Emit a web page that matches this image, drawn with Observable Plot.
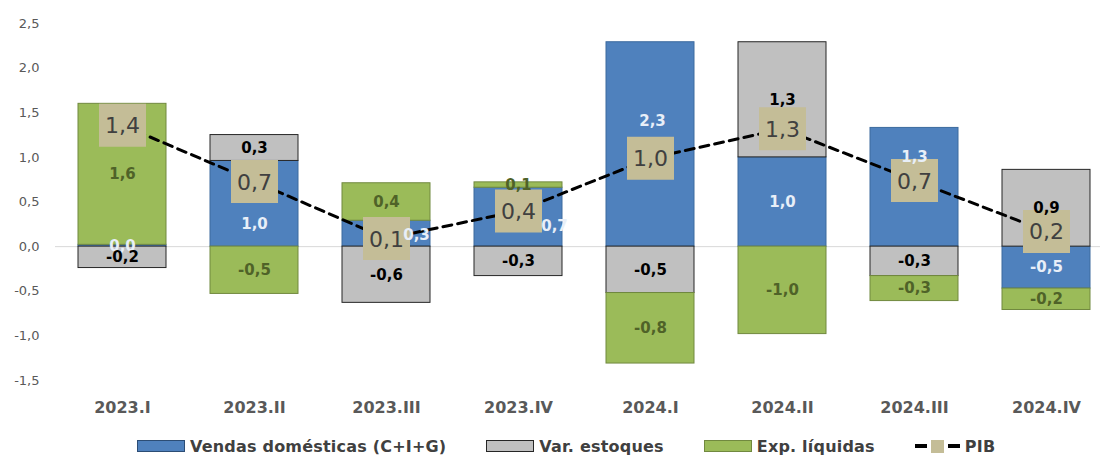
<!DOCTYPE html>
<html><head><meta charset="utf-8">
<script src="https://cdn.jsdelivr.net/npm/d3@7"></script>
<script src="https://cdn.jsdelivr.net/npm/@observablehq/plot@0.6"></script>
<style>
body{margin:0;background:#fff;font-family:"DejaVu Sans",sans-serif;}
#legend{display:flex;align-items:center;height:22px;margin-top:7px;padding-left:137px;font-weight:bold;font-size:16px;color:#404040;letter-spacing:0.2px}
.item{display:flex;align-items:center;margin-right:40px;white-space:nowrap}
.sw{width:46px;height:10px;margin-right:5px;border:1px solid}
.pib{display:flex;align-items:center;margin-right:5px}
.dash{width:12px;height:4px;background:#000}
.sq{width:13px;height:13px;background:#c4bd97;margin:0 4px}
</style></head><body>
<div id="chart"></div>
<div id="legend"></div>
<script>
const quarters = ["2023.I","2023.II","2023.III","2023.IV","2024.I","2024.II","2024.III","2024.IV"];
const seriesNames = ["Vendas domésticas (C+I+G)", "Var. estoques", "Exp. líquidas"];
const pibName = "PIB";
const vendas      = [0.02, 0.96, 0.29, 0.66, 2.29, 1.00, 1.33, -0.47];
const estoques    = [-0.24, 0.29, -0.63, -0.33, -0.52, 1.29, -0.33, 0.86];
const exportacoes = [1.58, -0.53, 0.42, 0.06, -0.79, -0.98, -0.28, -0.24];
const pib         = [1.36, 0.73, 0.09, 0.40, 0.99, 1.32, 0.74, 0.17];
const yTicks = [-1.5, -1, -0.5, 0, 0.5, 1, 1.5, 2, 2.5];

const seriesValues = [vendas, estoques, exportacoes];
const rows = quarters.flatMap((q, i) => seriesNames.map((s, j) => ({q, s, v: seriesValues[j][i]})));
const pibRows = quarters.map((q, i) => ({q, v: pib[i]}));

const fillOf   = {[seriesNames[0]]: "#4f81bd", [seriesNames[1]]: "#c0c0c0", [seriesNames[2]]: "#9bbb59"};
const strokeOf = {[seriesNames[0]]: "#3c6a9e", [seriesNames[1]]: "#262626", [seriesNames[2]]: "#71893f"};
const labelOf  = {[seriesNames[0]]: "#e8eff8", [seriesNames[1]]: "#000000", [seriesNames[2]]: "#4f6228"};
const legendBorderOf = {[seriesNames[0]]: "#2c4d75", [seriesNames[1]]: "#262626", [seriesNames[2]]: "#71893f"};

const fmt = d3.formatLocale({decimal: ",", thousands: ".", grouping: [3], currency: ["", ""], minus: "-"}).format(".1f");

// label nudges (pixel offsets), as in the original layout
const nudges = new Map([
  ["2023.II|" + seriesNames[0], [0, 20]],
  ["2023.III|" + seriesNames[0], [30, 2]],
  ["2023.IV|" + seriesNames[0], [36, 9]],
  ["2024.I|" + seriesNames[0], [2, -23]],
  ["2024.III|" + seriesNames[0], [0, -30]]
]);
const key = d => d.q + "|" + d.s;
const box = {draw(ctx) { ctx.rect(-23.5, -21.5, 47, 43); }};

const labelOpts = {fontSize: 15, fontWeight: "bold"};

const chart = Plot.plot({
  width: 1106, height: 428,
  marginLeft: 55, marginRight: 6, marginTop: 23, marginBottom: 48,
  style: {fontFamily: "DejaVu Sans", background: "#fff"},
  color: {type: "identity"},
  x: {type: "band", domain: quarters, range: [54.85, 1113.2], paddingInner: 0.335, paddingOuter: 0.1675},
  y: {domain: [-1.5, 2.5]},
  marks: [
    Plot.ruleY([0], {stroke: "#d9d9d9", strokeWidth: 1}),
    Plot.axisY({ticks: yTicks, tickFormat: fmt, tickSize: 0, tickPadding: 16, fontSize: 13, color: "#595959", label: null}),
    Plot.axisX({tickSize: 0, tickPadding: 21, fontSize: 16, fontWeight: "bold", color: "#595959", label: null}),
    Plot.barY(rows, Plot.stackY({x: "q", y: "v", fill: d => fillOf[d.s], stroke: d => strokeOf[d.s], strokeWidth: 1})),
    Plot.line(pibRows, {x: "q", y: "v", stroke: "#000", strokeWidth: 3, strokeDasharray: "9,6"}),
    Plot.dot(pibRows, {x: "q", y: "v", symbol: box, r: 10, fill: "#c4bd97"}),
    Plot.text(pibRows, {x: "q", y: "v", text: d => fmt(d.v), fontSize: 22, fill: "#404040", dy: 1}),
    Plot.text(rows, Plot.stackY({x: "q", y: "v", text: d => nudges.has(key(d)) ? null : fmt(d.v), fill: d => labelOf[d.s], ...labelOpts})),
    ...[...nudges].map(([k, [dx, dy]]) =>
      Plot.text(rows, Plot.stackY({x: "q", y: "v", text: d => key(d) === k ? fmt(d.v) : null, fill: d => labelOf[d.s], dx, dy, ...labelOpts})))
  ]
});
document.getElementById("chart").appendChild(chart);

const legend = document.getElementById("legend");
seriesNames.forEach(s => {
  const it = document.createElement("div"); it.className = "item";
  const sw = document.createElement("div"); sw.className = "sw";
  sw.style.background = fillOf[s]; sw.style.borderColor = legendBorderOf[s];
  it.appendChild(sw);
  it.appendChild(document.createTextNode(s));
  legend.appendChild(it);
});
const pi = document.createElement("div"); pi.className = "item";
pi.innerHTML = '<div class="pib"><div class="dash"></div><div class="sq"></div><div class="dash"></div></div>';
pi.appendChild(document.createTextNode(pibName));
legend.appendChild(pi);
</script>
</body></html>
